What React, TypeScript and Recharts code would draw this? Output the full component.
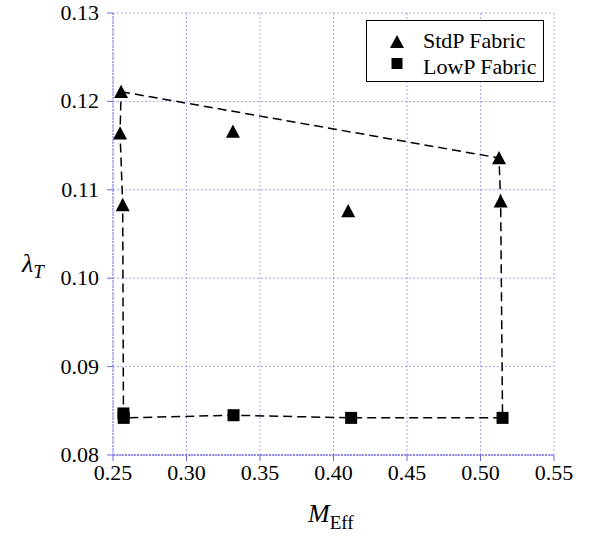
import { CartesianGrid, Legend, Scatter, ScatterChart, XAxis, YAxis } from 'recharts';

const FONT = 'Liberation Serif';
const txt = { fontFamily: FONT, fill: '#000' };

const xTicks = [0.25, 0.3, 0.35, 0.4, 0.45, 0.5, 0.55];
const yTicks = [0.08, 0.09, 0.1, 0.11, 0.12, 0.13];

// StdP fabric (triangles)
const stdpX = [0.2555, 0.2548, 0.2566, 0.3316, 0.41, 0.5126, 0.5137];
const stdpY = [0.1211, 0.1164, 0.1083, 0.1166, 0.1076, 0.1136, 0.1087];

// LowP fabric (squares)
const lowpX = [0.2571, 0.2573, 0.332, 0.412, 0.515];
const lowpY = [0.0847, 0.0842, 0.0845, 0.0842, 0.0842];

// dashed envelope round the points
const hullX = [0.2555, 0.5126, 0.5137, 0.515, 0.412, 0.332, 0.2573, 0.2571, 0.2566, 0.2548, 0.2555];
const hullY = [0.1211, 0.1136, 0.1087, 0.0842, 0.0842, 0.0845, 0.0842, 0.0847, 0.1083, 0.1164, 0.1211];

const zip = (xs: number[], ys: number[]) => xs.map((x, i) => ({ x, y: ys[i] }));
const stdp = zip(stdpX, stdpY);
const lowp = zip(lowpX, lowpY);
const hull = zip(hullX, hullY);

const Triangle = (props: any) => {
  const { cx, cy } = props;
  const s = 7;
  return <polygon points={`${cx},${cy - s} ${cx - s},${cy + s * 0.9} ${cx + s},${cy + s * 0.9}`} fill="#000" />;
};

const Square = (props: any) => {
  const { cx, cy } = props;
  return <rect x={cx - 6} y={cy - 6} width={12} height={12} fill="#000" />;
};

const XTick = (props: any) => {
  const { x, y, payload } = props;
  return (
    <text x={x} y={y + 17} textAnchor="middle" style={{ ...txt, fontSize: 22 }}>
      {payload.value.toFixed(2)}
    </text>
  );
};

const YTick = (props: any) => {
  const { x, y, payload } = props;
  return (
    <text x={x} y={y + 7} textAnchor="end" style={{ ...txt, fontSize: 22 }}>
      {payload.value.toFixed(2)}
    </text>
  );
};

const LegendBox = () => (
  <div style={{ border: '1px solid #000', background: '#fff', width: 176, height: 60, position: 'relative' }}>
    <svg width={176} height={60} style={{ position: 'absolute', left: 0, top: 0 }}>
      <polygon points="30,14 23,27 37,27" fill="#000" />
      <rect x={24.5} y={37} width={11} height={11} fill="#000" />
      <text x={56} y={27} style={{ ...txt, fontSize: 22 }}>StdP Fabric</text>
      <text x={56} y={53} style={{ ...txt, fontSize: 22 }}>LowP Fabric</text>
    </svg>
  </div>
);

export default function App() {
  return (
    <div style={{ position: 'absolute', left: 0, top: 0, width: 590, height: 540, background: '#fff' }}>
      <ScatterChart width={590} height={540} margin={{ top: 13, right: 36, bottom: 0, left: 0 }}>
        <CartesianGrid stroke="#a4a4f0" strokeDasharray="2 2" />
        <XAxis
          type="number"
          dataKey="x"
          domain={[0.25, 0.55]}
          ticks={xTicks}
          interval={0}
          height={85}
          tickSize={6}
          tickMargin={2}
          tick={XTick}
          axisLine={{ stroke: '#3c3cd0', strokeDasharray: '2 1' }}
          tickLine={{ stroke: '#6a6ae0' }}
          allowDataOverflow
          label={{
            content: () => (
              <text x={308} y={522} style={txt}>
                <tspan style={{ fontStyle: 'italic', fontSize: 26 }}>M</tspan>
                <tspan style={{ fontSize: 19 }} dy={7}>Eff</tspan>
              </text>
            ),
          }}
        />
        <YAxis
          type="number"
          dataKey="y"
          domain={[0.08, 0.13]}
          ticks={yTicks}
          interval={0}
          width={113}
          tickSize={6}
          tickMargin={8}
          tick={YTick}
          axisLine={{ stroke: '#8080e8', strokeDasharray: '2 1' }}
          tickLine={{ stroke: '#6a6ae0' }}
          allowDataOverflow
          label={{
            content: () => (
              <text x={22} y={272} style={txt}>
                <tspan style={{ fontStyle: 'italic', fontSize: 26 }}>λ</tspan>
                <tspan style={{ fontStyle: 'italic', fontSize: 19 }} dy={6}>T</tspan>
              </text>
            ),
          }}
        />
        <Legend
          layout="vertical"
          align="center"
          verticalAlign="middle"
          wrapperStyle={{ top: 20, left: 366, width: 178 }}
          content={() => <LegendBox />}
        />
        <Scatter
          data={hull}
          line={{ stroke: '#000', strokeWidth: 1.5, strokeDasharray: '9 5' }}
          shape={() => <g />}
          legendType="none"
          isAnimationActive={false}
        />
        <Scatter name="StdP Fabric" data={stdp} shape={Triangle} fill="#000" isAnimationActive={false} />
        <Scatter name="LowP Fabric" data={lowp} shape={Square} fill="#000" isAnimationActive={false} />
      </ScatterChart>
    </div>
  );
}
